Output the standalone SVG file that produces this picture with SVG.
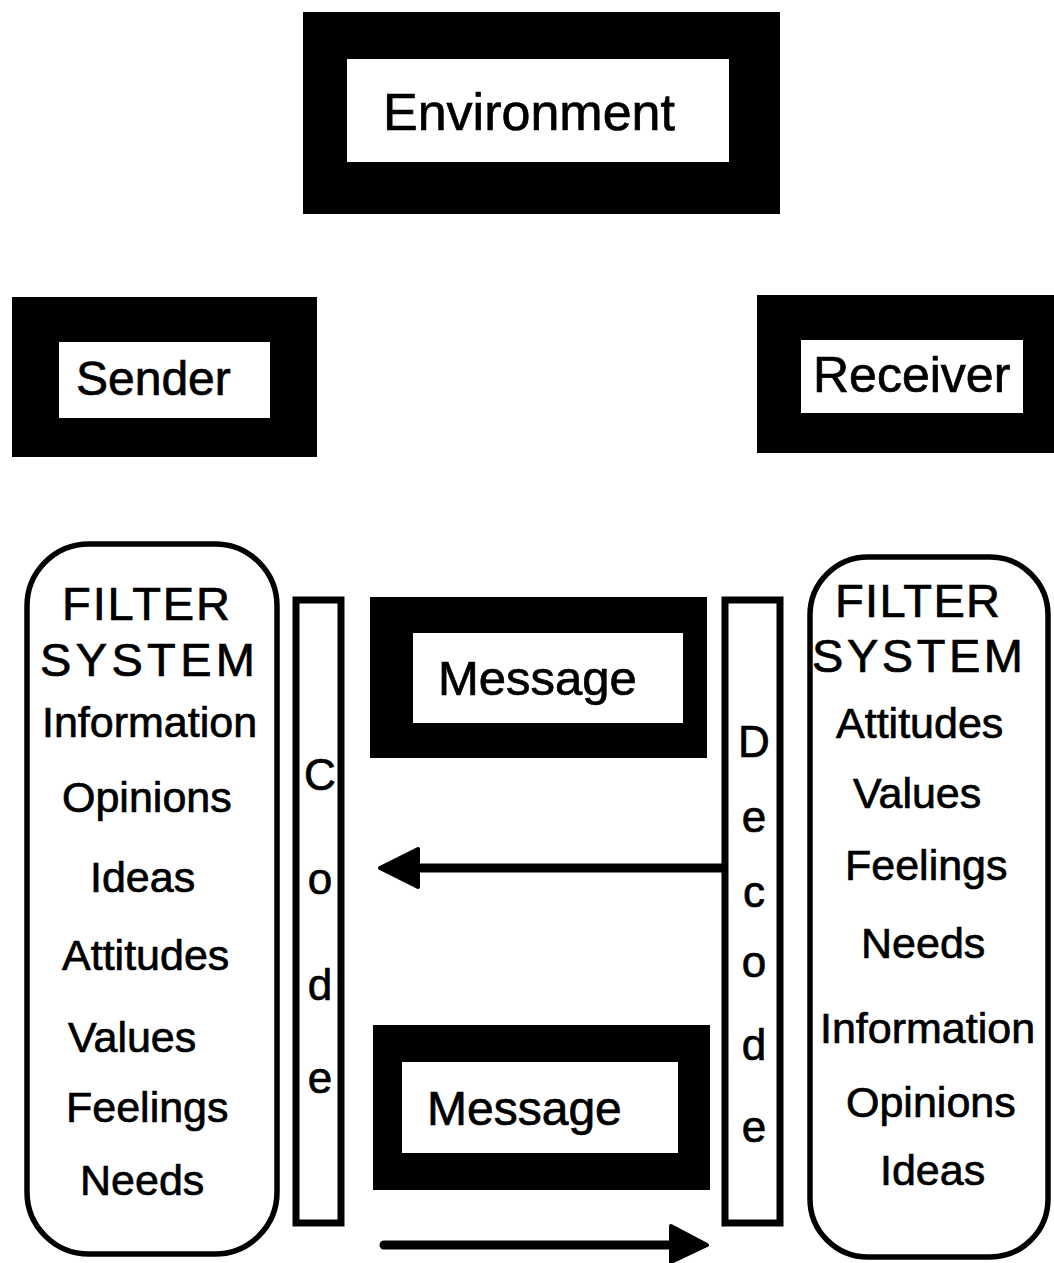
<svg xmlns="http://www.w3.org/2000/svg" width="1054" height="1263" viewBox="0 0 1054 1263">
<style>
.frame{fill:#000}
.inner{fill:#fff}
.bar{fill:#fff;stroke:#000;stroke-width:7}
.filter{fill:#fff;stroke:#000;stroke-width:5.5}
text{font-family:"Liberation Sans",Arial,sans-serif;fill:#000;stroke:#000;stroke-width:0.7}
.lbl{font-size:49px}
.item{font-size:43px}
.head{font-size:47px}
.ltr{font-size:44px;text-anchor:middle}
.conn{stroke:#000;stroke-width:9;stroke-linecap:round;fill:none}
.tip{fill:#000;stroke:#000;stroke-width:4;stroke-linejoin:round}
</style>
<rect width="1054" height="1263" fill="#fff"/>
<g id="environment">
<rect class="frame" x="303" y="12" width="477" height="202"/>
<rect class="inner" x="347" y="59" width="382" height="103"/>
<text x="383" y="130" style="font-size:52px">Environment</text>
</g>
<g id="sender">
<rect class="frame" x="12" y="297" width="305" height="160"/>
<rect class="inner" x="59" y="342" width="211" height="76"/>
<text x="76" y="395" style="font-size:48px">Sender</text>
</g>
<g id="receiver">
<rect class="frame" x="757" y="295" width="297" height="158"/>
<rect class="inner" x="801" y="340" width="222" height="73"/>
<text x="813" y="392" style="font-size:50px">Receiver</text>
</g>
<g id="sender-filter">
<rect class="filter" x="27" y="544" width="250" height="710" rx="62" ry="62"/>
<text class="head" x="62" y="620" textLength="168" lengthAdjust="spacing">FILTER</text>
<text class="head" x="40" y="676" textLength="215" lengthAdjust="spacing">SYSTEM</text>
<text class="item" x="42" y="737">Information</text>
<text class="item" x="62" y="812">Opinions</text>
<text class="item" x="90" y="892">Ideas</text>
<text class="item" x="62" y="970">Attitudes</text>
<text class="item" x="68" y="1052">Values</text>
<text class="item" x="66" y="1122">Feelings</text>
<text class="item" x="80" y="1195">Needs</text>
</g>
<g id="code">
<rect class="bar" x="296" y="600" width="45" height="623"/>
<text class="ltr" x="320" y="790">C</text>
<text class="ltr" x="320" y="894">o</text>
<text class="ltr" x="320" y="1000">d</text>
<text class="ltr" x="320" y="1093">e</text>
</g>
<g id="message-top">
<rect class="frame" x="370" y="597" width="337" height="161"/>
<rect class="inner" x="413" y="633" width="270" height="90"/>
<text class="lbl" x="438" y="695">Message</text>
</g>
<g id="message-bottom">
<rect class="frame" x="373" y="1025" width="337" height="165"/>
<rect class="inner" x="402" y="1062" width="276" height="91"/>
<text x="427" y="1125" style="font-size:48px">Message</text>
</g>
<g id="decode">
<rect class="bar" x="725" y="600" width="55" height="623"/>
<text class="ltr" x="754" y="757">D</text>
<text class="ltr" x="754" y="832">e</text>
<text class="ltr" x="754" y="907">c</text>
<text class="ltr" x="754" y="977">o</text>
<text class="ltr" x="754" y="1060">d</text>
<text class="ltr" x="754" y="1142">e</text>
</g>
<g id="receiver-filter">
<rect class="filter" x="810" y="557" width="238" height="700" rx="58" ry="58"/>
<text class="head" x="835" y="617" textLength="165" lengthAdjust="spacing">FILTER</text>
<text class="head" x="812" y="672" textLength="211" lengthAdjust="spacing">SYSTEM</text>
<text class="item" x="836" y="738">Attitudes</text>
<text class="item" x="853" y="808">Values</text>
<text class="item" x="845" y="880">Feelings</text>
<text class="item" x="861" y="958">Needs</text>
<text class="item" x="820" y="1043">Information</text>
<text class="item" x="846" y="1117">Opinions</text>
<text class="item" x="880" y="1185">Ideas</text>
</g>
<g id="connectors">
<line class="conn" x1="722" y1="868" x2="412" y2="868"/>
<polygon class="tip" points="380,868 418,849 418,887"/>
<line class="conn" x1="384" y1="1245" x2="676" y2="1245"/>
<polygon class="tip" points="707,1245 671,1226 671,1262"/>
</g>
</svg>
